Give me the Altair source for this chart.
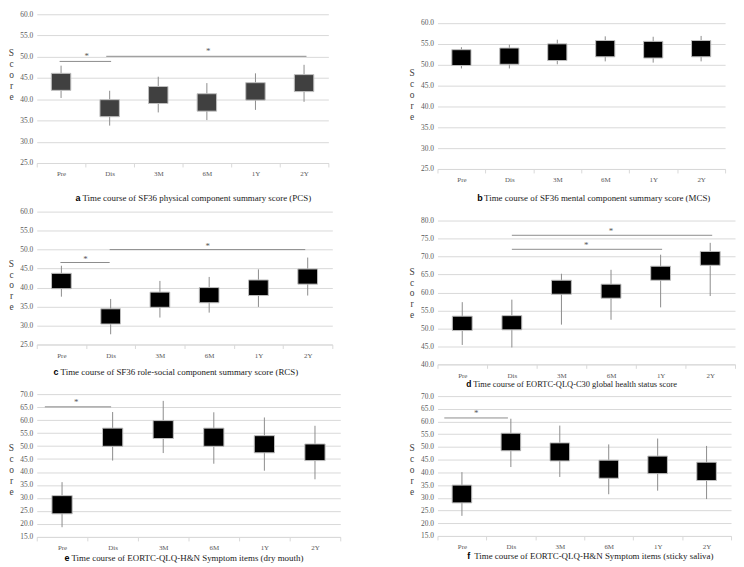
import altair as alt
import pandas as pd

SERIF = "Liberation Serif"
SANS = "Liberation Sans"

categories = ["Pre", "Dis", "3M", "6M", "1Y", "2Y"]

# ---- panel a: SF36 PCS ----
a_wh_low = [40.3, 33.8, 36.9, 35.1, 37.5, 39.4]
a_box_low = [42.1, 35.9, 39.0, 37.2, 39.8, 41.8]
a_box_high = [46.1, 39.9, 43.0, 41.3, 43.9, 45.8]
a_wh_high = [47.9, 42.0, 45.3, 43.8, 46.1, 48.1]
a_sig = [(0.47, 1.53, 48.9, 1.03, 50.1), (1.43, 5.55, 50.1, 3.53, 51.4)]

# ---- panel b: SF36 MCS ----
b_wh_low = [49.1, 49.1, 50.1, 50.8, 50.5, 50.8]
b_box_low = [49.8, 50.1, 51.0, 51.9, 51.6, 51.9]
b_box_high = [53.6, 54.0, 55.0, 55.8, 55.6, 55.8]
b_wh_high = [54.2, 54.8, 56.0, 56.8, 56.7, 56.9]
b_sig = []

# ---- panel c: SF36 RCS ----
c_wh_low = [37.6, 27.7, 32.1, 33.4, 34.9, 37.9]
c_box_low = [39.7, 30.4, 34.8, 36.0, 37.9, 40.9]
c_box_high = [43.75, 34.4, 38.8, 40.0, 42.0, 44.9]
c_wh_high = [45.75, 37.0, 41.75, 42.8, 44.8, 47.9]
c_sig = [(0.48, 1.48, 46.6, 0.99, 47.6), (1.48, 5.45, 50.0, 3.47, 51.05)]

# ---- panel d: global health status ----
d_wh_low = [45.4, 44.7, 51.05, 52.4, 55.85, 59.0]
d_box_low = [49.4, 49.6, 59.5, 58.4, 63.4, 67.55]
d_box_high = [53.4, 53.55, 63.4, 62.3, 67.3, 71.4]
d_wh_high = [57.3, 58.0, 65.2, 66.3, 70.5, 73.8]
d_sig = [(1.5, 4.53, 72.0, 3.0, 73.2), (1.5, 5.54, 75.9, 3.5, 77.1)]

# ---- panel e: dry mouth ----
e_wh_low = [18.75, 44.4, 47.3, 43.2, 40.5, 37.2]
e_box_low = [23.9, 49.9, 52.9, 49.9, 47.4, 44.4]
e_box_high = [30.9, 56.9, 59.8, 56.9, 54.0, 50.8]
e_wh_high = [36.1, 63.1, 67.4, 63.0, 61.0, 57.8]
e_sig = [(0.16, 1.47, 65.1, 0.78, 67.0)]

# ---- panel f: sticky saliva ----
f_wh_low = [22.9, 42.1, 38.2, 31.4, 32.8, 29.5]
f_box_low = [28.0, 48.5, 44.5, 37.7, 39.5, 36.8]
f_box_high = [35.0, 55.4, 51.6, 44.8, 46.4, 44.0]
f_wh_high = [40.1, 61.1, 58.4, 51.0, 53.3, 50.4]
f_sig = [(0.14, 1.44, 61.4, 0.79, 63.35)]

captions = {
    "a": "Time course of SF36 physical component summary score (PCS)",
    "b": "Time course of SF36 mental component summary score (MCS)",
    "c": "Time course of SF36 role-social component summary score (RCS)",
    "d": "Time course of EORTC-QLQ-C30 global health status score",
    "e": "Time course of EORTC-QLQ-H&N Symptom items (dry mouth)",
    "f": "Time course of EORTC-QLQ-H&N Symptom items (sticky saliva)",
}
# axis ranges (tick range) and the scale top (panel b keeps blank room above 60)
ydomains = {"a": [25, 60], "b": [25, 60], "c": [25, 60], "d": [40, 80], "e": [15, 70], "f": [15, 70]}
ytops = {"a": 60, "b": 62.1, "c": 60, "d": 80, "e": 70, "f": 70}

# layout (sizes in px)
layout = {
    "a": dict(w=294, h=150, ty=34, cx=39, cy=35, top=0, fill="#404040", fs=9),
    "b": dict(w=290, h=156, ty=54, cx=40, cy=29, top=0, fill="#000000", fs=9),
    "c": dict(w=298, h=134, ty=47, cx=17, cy=28, top=5, fill="#000000", fs=9),
    "d": dict(w=300, h=145, ty=46, cx=29, cy=20, top=14, fill="#000000", fs=8.5),
    "e": dict(w=306, h=144, ty=49, cx=28, cy=21, top=13, fill="#000000", fs=9),
    "f": dict(w=296, h=141, ty=47, cx=30, cy=20, top=3, fill="#000000", fs=9),
}


def make_panel(key, wl, bl, bh, wh, sig):
    L = layout[key]
    w, h = L["w"], L["h"]
    y0, y1 = ydomains[key]
    df = pd.DataFrame({"cat": categories, "wl": wl, "bl": bl, "bh": bh, "wh": wh})
    ysc = alt.Scale(domain=[y0, ytops[key]], nice=False, zero=False)
    yax = alt.Axis(values=list(range(y0, y1 + 1, 5)), format=".1f", grid=True,
                   gridColor="#d9d9d9", gridWidth=1, domain=False, ticks=False,
                   labelFont=SERIF, labelFontSize=7.5, labelColor="#595959", labelPadding=4,
                   title=["S", "c", "o", "r", "e"], titleAngle=0, titleAlign="center",
                   titleBaseline="top", titleX=-26, titleY=L["ty"], titleFont=SERIF,
                   titleFontSize=9.5, titleFontWeight="normal", titleColor="#404040",
                   titleLineHeight=11)
    xsc = alt.Scale(domain=categories, paddingInner=0, paddingOuter=0)
    xax = alt.Axis(title=None, labelAngle=0, labelFont=SERIF, labelFontSize=7,
                   labelColor="#595959", labelPadding=3, domain=True, domainColor="#d9d9d9",
                   ticks=True, tickBand="extent", tickColor="#d9d9d9", tickSize=4, grid=False)
    whisk = alt.Chart(df).mark_rule(color="#8c8c8c", strokeWidth=1).encode(
        x=alt.X("cat:N", sort=categories, scale=xsc, axis=xax),
        y=alt.Y("wl:Q", scale=ysc, axis=yax), y2="wh:Q")
    box = alt.Chart(df).mark_bar(width=alt.RelativeBandSize(0.4), fill=L["fill"],
                                 stroke="#bfbfbf", strokeWidth=1).encode(
        x=alt.X("cat:N", sort=categories, scale=xsc, axis=None),
        y=alt.Y("bl:Q", scale=ysc, axis=yax), y2="bh:Q")
    layers = [whisk, box]
    if sig:
        sdf = pd.DataFrame(sig, columns=["x1", "x2", "y", "sx", "sy"])
        qx = alt.Scale(domain=[0, 6], nice=False, zero=False)
        rules = alt.Chart(sdf).mark_rule(color="#8c8c8c", strokeWidth=1).encode(
            x=alt.X("x1:Q", scale=qx, axis=None), x2="x2:Q",
            y=alt.Y("y:Q", scale=ysc, axis=yax))
        stars = alt.Chart(sdf).mark_text(text="*", font=SERIF, fontSize=9, color="#595959",
                                         baseline="middle").encode(
            x=alt.X("sx:Q", scale=qx, axis=None),
            y=alt.Y("sy:Q", scale=ysc, axis=yax))
        layers += [rules, stars]
    one = pd.DataFrame({"k": [0]})
    letter = alt.Chart(one).mark_text(text=key, font=SANS, fontWeight="bold", fontSize=L["fs"],
                                      align="left", baseline="middle", color="#000000").encode(
        x=alt.value(L["cx"]), y=alt.value(h + L["cy"]))
    cap = alt.Chart(one).mark_text(text=captions[key], font=SERIF, fontSize=L["fs"], align="left",
                                   baseline="middle", color="#1a1a1a").encode(
        x=alt.value(L["cx"] + 7), y=alt.value(h + L["cy"]))
    layers += [letter, cap]
    if L["top"] > 0:
        spacer = alt.Chart(one).mark_text(text=".", fontSize=9, opacity=0,
                                          baseline="middle").encode(
            x=alt.value(0), y=alt.value(-L["top"]))
        layers.append(spacer)
    return alt.layer(*layers).resolve_scale(x="independent").properties(width=w, height=h)


pa = make_panel("a", a_wh_low, a_box_low, a_box_high, a_wh_high, a_sig)
pb = make_panel("b", b_wh_low, b_box_low, b_box_high, b_wh_high, b_sig)
pc = make_panel("c", c_wh_low, c_box_low, c_box_high, c_wh_high, c_sig)
pd_ = make_panel("d", d_wh_low, d_box_low, d_box_high, d_wh_high, d_sig)
pe = make_panel("e", e_wh_low, e_box_low, e_box_high, e_wh_high, e_sig)
pf = make_panel("f", f_wh_low, f_box_low, f_box_high, f_wh_high, f_sig)

left = alt.vconcat(pa, pc, pe, spacing=0)
right = alt.vconcat(pb, pd_, pf, spacing=0)
chart = alt.hconcat(left, right, spacing=68).properties(padding=0, background="white").configure_view(stroke=None)

chart.save("out.html", embed_options={"renderer": "svg", "actions": False})
